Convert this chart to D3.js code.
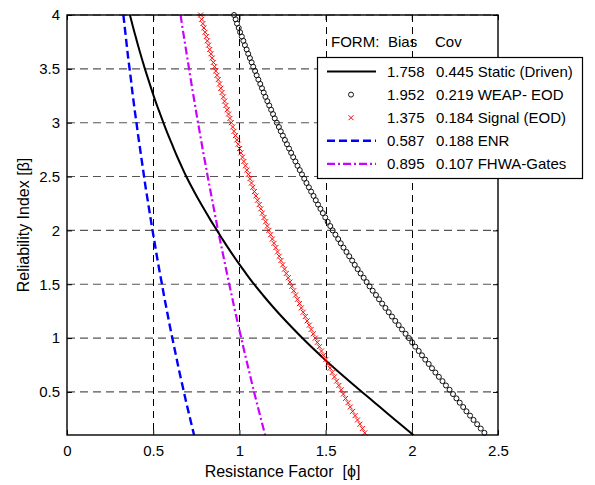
<!DOCTYPE html>
<html>
<head>
<meta charset="utf-8">
<script src="https://cdn.jsdelivr.net/npm/d3@7"></script>
<style>
  html, body { margin: 0; padding: 0; background: #fff; }
  svg { display: block; font-family: "Liberation Sans", Arial, Helvetica, sans-serif; }
</style>
</head>
<body>
<svg id="chart" width="595" height="485"></svg>
<script>
// ---------------- data ----------------
const xTicks = [0, 0.5, 1, 1.5, 2, 2.5];
const xTickLabels = ["0", "0.5", "1", "1.5", "2", "2.5"];
const yTicks = [0.5, 1, 1.5, 2, 2.5, 3, 3.5, 4];
const yTickLabels = ["0.5", "1", "1.5", "2", "2.5", "3", "3.5", "4"];

const seriesNames = ["Static (Driven)", "WEAP- EOD", "Signal (EOD)", "ENR", "FHWA-Gates"];
const biasValues = ["1.758", "1.952", "1.375", "0.587", "0.895"];
const covValues  = ["0.445", "0.219", "0.184", "0.188", "0.107"];

// reliability index levels for the line series
const lineBeta = [4.0,3.9,3.8,3.7,3.6,3.5,3.4,3.3,3.2,3.1,
                  3.0,2.9,2.8,2.7,2.6,2.5,2.4,2.3,2.2,2.1,
                  2.0,1.9,1.8,1.7,1.6,1.5,1.4,1.3,1.2,1.1,
                  1.0,0.9,0.8,0.7,0.6,0.5,0.4,0.3,0.2,0.1];

const staticPhi = [0.365,0.381,0.398,0.415,0.433,0.452,0.472,0.492,0.513,0.536,
                   0.559,0.583,0.609,0.635,0.663,0.692,0.724,0.758,0.794,0.831,
                   0.870,0.909,0.950,0.993,1.038,1.085,1.136,1.189,1.245,1.304,
                   1.365,1.429,1.496,1.566,1.638,1.711,1.785,1.859,1.934,2.009];

const enrPhi = [0.327,0.334,0.341,0.348,0.355,0.363,0.371,0.378,0.386,0.394,
                0.403,0.411,0.420,0.429,0.438,0.447,0.456,0.466,0.476,0.486,
                0.496,0.507,0.517,0.528,0.539,0.551,0.562,0.574,0.586,0.598,
                0.611,0.624,0.637,0.650,0.664,0.678,0.692,0.707,0.722,0.737];

const gatesPhi = [0.659,0.668,0.678,0.688,0.698,0.708,0.718,0.728,0.739,0.749,
                  0.760,0.771,0.782,0.793,0.805,0.816,0.828,0.840,0.852,0.864,
                  0.876,0.889,0.902,0.915,0.928,0.941,0.955,0.968,0.982,0.996,
                  1.011,1.025,1.040,1.055,1.070,1.085,1.101,1.117,1.133,1.149];

// reliability index levels for the marker series
const markerBeta = [4.00,3.96,3.92,3.88,3.84,3.80,3.76,3.72,3.68,3.64,
                    3.60,3.56,3.52,3.48,3.44,3.40,3.36,3.32,3.28,3.24,
                    3.20,3.16,3.12,3.08,3.04,3.00,2.96,2.92,2.88,2.84,
                    2.80,2.76,2.72,2.68,2.64,2.60,2.56,2.52,2.48,2.44,
                    2.40,2.36,2.32,2.28,2.24,2.20,2.16,2.12,2.08,2.04,
                    2.00,1.96,1.92,1.88,1.84,1.80,1.76,1.72,1.68,1.64,
                    1.60,1.56,1.52,1.48,1.44,1.40,1.36,1.32,1.28,1.24,
                    1.20,1.16,1.12,1.08,1.04,1.00,0.96,0.92,0.88,0.84,
                    0.80,0.76,0.72,0.68,0.64,0.60,0.56,0.52,0.48,0.44,
                    0.40,0.36,0.32,0.28,0.24,0.20,0.16,0.12];

const weapPhi = [0.969,0.978,0.986,0.996,1.004,1.014,1.023,1.032,1.042,1.051,
                 1.061,1.071,1.080,1.091,1.100,1.110,1.121,1.131,1.141,1.151,
                 1.162,1.173,1.184,1.195,1.205,1.217,1.229,1.240,1.252,1.264,
                 1.276,1.288,1.300,1.312,1.325,1.337,1.350,1.363,1.376,1.389,
                 1.403,1.416,1.430,1.443,1.456,1.470,1.484,1.498,1.512,1.527,
                 1.541,1.557,1.573,1.588,1.604,1.621,1.637,1.654,1.669,1.686,
                 1.703,1.721,1.738,1.755,1.773,1.792,1.810,1.828,1.847,1.866,
                 1.885,1.904,1.924,1.943,1.964,1.983,2.002,2.020,2.040,2.059,
                 2.078,2.098,2.117,2.137,2.157,2.178,2.198,2.219,2.239,2.259,
                 2.278,2.298,2.317,2.338,2.358,2.379,2.400,2.421];

const signalPhi = [0.775,0.781,0.788,0.794,0.801,0.808,0.814,0.821,0.828,0.835,
                   0.842,0.849,0.856,0.863,0.870,0.877,0.885,0.892,0.899,0.907,
                   0.914,0.922,0.929,0.937,0.945,0.953,0.961,0.969,0.977,0.985,
                   0.993,1.001,1.009,1.018,1.026,1.035,1.043,1.052,1.061,1.070,
                   1.078,1.087,1.096,1.105,1.115,1.124,1.133,1.143,1.152,1.162,
                   1.171,1.181,1.191,1.201,1.211,1.221,1.231,1.241,1.251,1.262,
                   1.272,1.283,1.293,1.304,1.315,1.326,1.337,1.348,1.359,1.370,
                   1.382,1.393,1.405,1.416,1.428,1.440,1.452,1.464,1.476,1.488,
                   1.501,1.513,1.526,1.538,1.551,1.564,1.577,1.590,1.603,1.616,
                   1.630,1.643,1.657,1.671,1.685,1.699,1.713,1.727];

// ---------------- drawing ----------------
const L = 67, R = 498, T = 15, B = 435;
const svg = d3.select("#chart");
const x = d3.scaleLinear().domain([0, 2.5]).range([L, R]);
const y = d3.scaleLinear().domain([0.1, 4]).range([B, T]);

svg.append("rect").attr("x", 0).attr("y", 0).attr("width", 595).attr("height", 485).attr("fill", "#fff");

// clip
svg.append("clipPath").attr("id", "plotclip")
  .append("rect").attr("x", L).attr("y", T - 3).attr("width", R - L).attr("height", B - T + 6);

// grid
const grid = svg.append("g").attr("fill", "none");
grid.selectAll("line.v").data(xTicks.slice(1, -1)).join("line")
  .attr("x1", d => Math.round(x(d)) + 0.5).attr("x2", d => Math.round(x(d)) + 0.5)
  .attr("y1", T).attr("y2", B)
  .attr("stroke", "#000").attr("stroke-width", 1).attr("stroke-dasharray", "7,5");
grid.selectAll("line.h").data(yTicks).join("line")
  .attr("y1", d => y(d)).attr("y2", d => y(d))
  .attr("x1", L).attr("x2", R)
  .attr("stroke", "#555").attr("stroke-width", 1.1).attr("stroke-dasharray", "8,5");

const plot = svg.append("g").attr("clip-path", "url(#plotclip)");

function lineData(betas, phis) { return betas.map((b, i) => [phis[i], b]); }
const lineGen = d3.line().x(d => x(d[0])).y(d => y(d[1])).curve(d3.curveMonotoneY);

plot.append("path").datum(lineData(lineBeta, enrPhi))
  .attr("d", lineGen).attr("fill", "none").attr("stroke", "#0000ff")
  .attr("stroke-width", 2.4).attr("stroke-dasharray", "8,4");
plot.append("path").datum(lineData(lineBeta, gatesPhi))
  .attr("d", lineGen).attr("fill", "none").attr("stroke", "#cc00ff")
  .attr("stroke-width", 2.2).attr("stroke-dasharray", "8,3,2,3");
plot.append("path").datum(lineData(lineBeta, staticPhi))
  .attr("d", lineGen).attr("fill", "none").attr("stroke", "#000")
  .attr("stroke-width", 2);

// circle markers
plot.append("g").selectAll("circle").data(lineData(markerBeta, weapPhi)).join("circle")
  .attr("cx", d => x(d[0])).attr("cy", d => y(d[1])).attr("r", 2.5)
  .attr("fill", "none").attr("stroke", "#111").attr("stroke-width", 1);

// x markers
const xs = 2.5;
function xPath(cx, cy) {
  return `M${cx - xs},${cy - xs}L${cx + xs},${cy + xs}M${cx - xs},${cy + xs}L${cx + xs},${cy - xs}`;
}
plot.append("g").selectAll("path").data(lineData(markerBeta, signalPhi)).join("path")
  .attr("d", d => xPath(x(d[0]), y(d[1])))
  .attr("fill", "none").attr("stroke", "#ff0000").attr("stroke-width", 1);

// axes
const fontSize = 15;
const ax = svg.append("g")
  .attr("transform", `translate(0,${B})`)
  .call(d3.axisBottom(x).tickValues(xTicks).tickFormat((d, i) => xTickLabels[i])
        .tickSizeInner(-5).tickSizeOuter(0).tickPadding(10));
const ay = svg.append("g")
  .attr("transform", `translate(${L},0)`)
  .call(d3.axisLeft(y).tickValues(yTicks).tickFormat((d, i) => yTickLabels[i])
        .tickSizeInner(-5).tickSizeOuter(0).tickPadding(7));
const at = svg.append("g")
  .attr("transform", `translate(0,${T})`)
  .call(d3.axisTop(x).tickValues(xTicks).tickFormat("").tickSizeInner(-5).tickSizeOuter(0));
const ar = svg.append("g")
  .attr("transform", `translate(${R},0)`)
  .call(d3.axisRight(y).tickValues(yTicks).tickFormat("").tickSizeInner(-5).tickSizeOuter(0));
[ax, ay, at, ar].forEach(g => {
  g.select(".domain").remove();
  g.selectAll(".tick line").attr("stroke", "#000").attr("stroke-width", 1);
  g.selectAll(".tick text").attr("fill", "#000")
    .style("font-family", '"Liberation Sans", Arial, sans-serif').style("font-size", fontSize + "px");
});

svg.append("rect").attr("x", L).attr("y", T).attr("width", R - L).attr("height", B - T)
  .attr("fill", "none").attr("stroke", "#000").attr("stroke-width", 1.4);

// axis titles
svg.append("text").attr("x", (L + R) / 2).attr("y", 477).attr("text-anchor", "middle")
  .attr("font-size", 16).attr("fill", "#000").attr("xml:space", "preserve")
  .text("Resistance Factor  [\u03D5]");
svg.append("text").attr("transform", `translate(29,${(T + B) / 2}) rotate(-90)`)
  .attr("text-anchor", "middle").attr("font-size", 16).attr("fill", "#000")
  .text("Reliability Index [\u03B2]");

// legend header
const hdr = svg.append("g").attr("font-size", fontSize).attr("fill", "#000");
hdr.append("text").attr("x", 331).attr("y", 47).text("FORM:");
hdr.append("text").attr("x", 388).attr("y", 47).text("Bias");
hdr.append("text").attr("x", 435).attr("y", 47).text("Cov");

// legend box
const lg = svg.append("g");
lg.append("rect").attr("x", 317.5).attr("y", 57.5).attr("width", 265).attr("height", 121)
  .attr("fill", "#fff").attr("stroke", "#000").attr("stroke-width", 1.2);
const rowY = i => 71.5 + i * 23.1;
const styles = [
  {type: "line", color: "#000", width: 2, dash: null},
  {type: "circle"},
  {type: "x"},
  {type: "line", color: "#0000ff", width: 2.4, dash: "8,4"},
  {type: "line", color: "#cc00ff", width: 2.2, dash: "8,3,2,3"}
];
seriesNames.forEach((name, i) => {
  const cy = rowY(i);
  const s = styles[i];
  if (s.type === "line") {
    lg.append("line").attr("x1", 327).attr("x2", 376).attr("y1", cy).attr("y2", cy)
      .attr("stroke", s.color).attr("stroke-width", s.width)
      .attr("stroke-dasharray", s.dash);
  } else if (s.type === "circle") {
    lg.append("circle").attr("cx", 351).attr("cy", cy).attr("r", 2.5)
      .attr("fill", "none").attr("stroke", "#111").attr("stroke-width", 1);
  } else {
    lg.append("path").attr("d", xPath(351, cy)).attr("stroke", "#ff0000").attr("stroke-width", 1);
  }
  lg.append("text").attr("x", 387).attr("y", cy + 5.3).attr("font-size", fontSize).text(biasValues[i]);
  lg.append("text").attr("x", 436).attr("y", cy + 5.3).attr("font-size", fontSize)
    .text(covValues[i] + " " + name);
});
</script>
</body>
</html>
